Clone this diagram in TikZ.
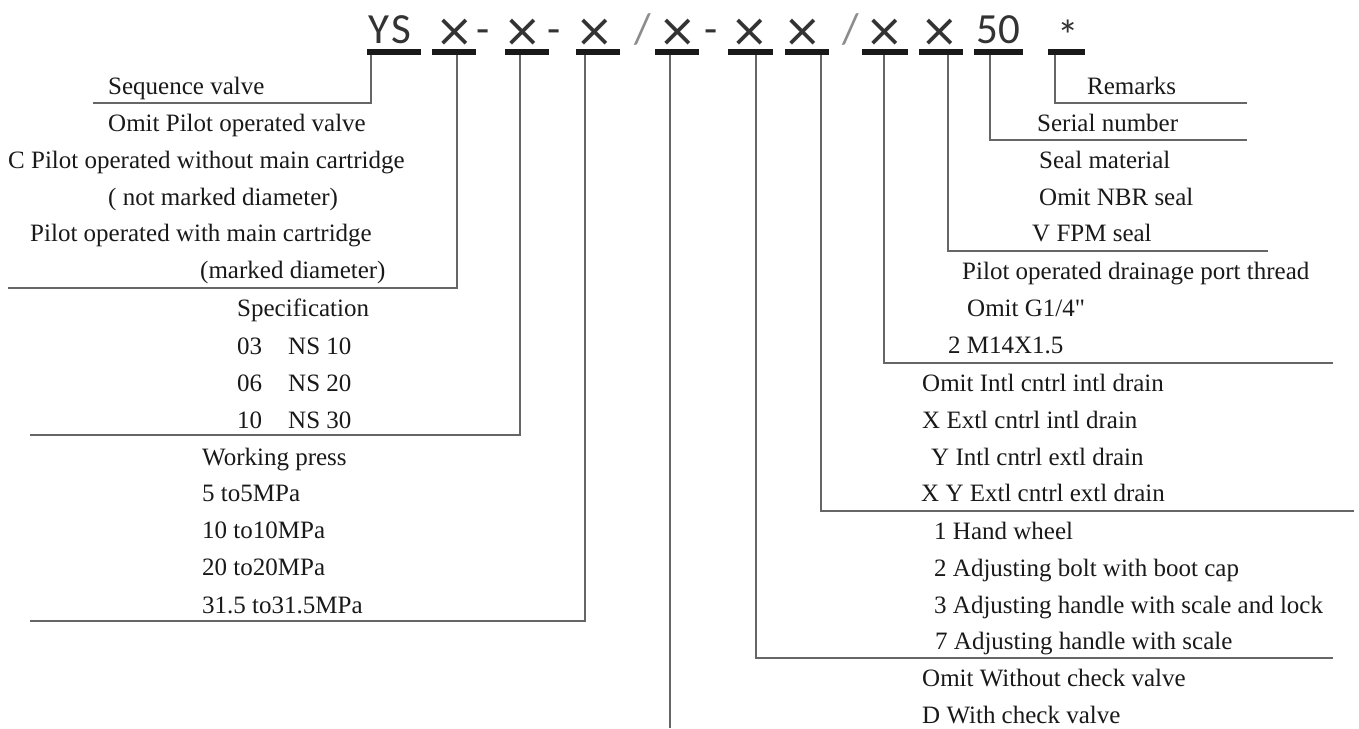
\documentclass[tikz,border=0pt]{standalone}
\usepackage{fontspec}
\setmainfont{Liberation Serif}
\newfontfamily\qfont{Liberation Serif}
\newfontfamily\codefont{Carlito}
\newfontfamily\crossfont{DejaVu Sans}
\begin{document}
\begin{tikzpicture}[x=1pt,y=-1pt,
  lbl/.style={anchor=base west,inner sep=0pt,font=\fontsize{25}{25}\selectfont,text=black!90},
  code/.style={anchor=base,inner sep=0pt,font=\codefont\fontsize{43}{43}\selectfont,text=black!80},
  cross/.style={anchor=base,inner sep=0pt,font=\crossfont\fontsize{46}{46}\selectfont,text=black!80},
  slash/.style={code,text=black!45},
  bar/.style={line width=6pt,black!90},
  lead/.style={line width=2pt,black!60}]
\useasboundingbox (0,0) rectangle (1359,728);

% code characters
\node[code] (cYS) at (390,43) {Y\kern2pt S};
\node[cross] (cx1) at (455,46) {×};
\node[code] (h1)  at (483,43) {-};
\node[cross] (cx2) at (523,46) {×};
\node[code] (h2)  at (554,43) {-};
\node[cross] (cx3) at (595,46) {×};
\node[slash] (s1) at (643,43) {/};
\node[cross] (cx4) at (678,46) {×};
\node[code] (h3)  at (711,43) {-};
\node[cross] (cx5) at (750,46) {×};
\node[cross] (cx6) at (803,46) {×};
\node[slash] (s2) at (851,43) {/};
\node[cross] (cx7) at (885,46) {×};
\node[cross] (cx8) at (940,46) {×};
\node[code] (c50) at (998,43) {50};
\node[code] (cst) at (1068,50) {*};

% underline bars
\draw[bar] (367,52) -- (421,52);
\draw[bar] (432,52) -- (476,52);
\draw[bar] (505,52) -- (549,52);
\draw[bar] (576,52) -- (620,52);
\draw[bar] (655,52) -- (699,52);
\draw[bar] (728,52) -- (773,52);
\draw[bar] (785,52) -- (829,52);
\draw[bar] (862,52) -- (908,52);
\draw[bar] (919,52) -- (963,52);
\draw[bar] (974,52) -- (1023,52);
\draw[bar] (1048,52) -- (1085,52);

% leader coordinates
\coordinate (t1) at (371,55);  \coordinate (e1) at (93,103);
\coordinate (t2) at (457,55);  \coordinate (e2) at (8,288);
\coordinate (t3) at (520,55);  \coordinate (e3) at (30,435);
\coordinate (t4) at (585,55);  \coordinate (e4) at (30,621);
\coordinate (t5) at (670,55);  \coordinate (e5) at (670,728);
\coordinate (t6) at (756,55);  \coordinate (e6) at (1333,658);
\coordinate (t7) at (821,55);  \coordinate (e7) at (1354,511);
\coordinate (t8) at (884,55);  \coordinate (e8) at (1333,363);
\coordinate (t9) at (948,55);  \coordinate (e9) at (1268,251);
\coordinate (t10) at (990,55); \coordinate (e10) at (1247,140);
\coordinate (t11) at (1055,55);\coordinate (e11) at (1247,103);

\draw[lead] (t1) |- (e1);
\draw[lead] (t2) |- (e2);
\draw[lead] (t3) |- (e3);
\draw[lead] (t4) |- (e4);
\draw[lead] (t5) -- (e5);
\draw[lead] (t6) |- (e6);
\draw[lead] (t7) |- (e7);
\draw[lead] (t8) |- (e8);
\draw[lead] (t9) |- (e9);
\draw[lead] (t10) |- (e10);
\draw[lead] (t11) |- (e11);

% left labels
\node[lbl] (l1) at (108,94) {Sequence valve};
\node[lbl] (l2) at (108,131) {Omit Pilot operated valve};
\node[lbl] (l3) at (8,168) {C Pilot operated without main cartridge};
\node[lbl] (l4) at (108,205) {( not marked diameter)};
\node[lbl] (l5) at (30,241) {Pilot operated with main cartridge};
\node[lbl] (l6) at (200,278) {(marked diameter)};
\node[lbl] (l7) at (237,316) {Specification};
\node[lbl] (l8a) at (237,354) {03};  \node[lbl] (l8b) at (288,354) {NS 10};
\node[lbl] (l9a) at (237,391) {06};  \node[lbl] (l9b) at (288,391) {NS 20};
\node[lbl] (l10a) at (237,428) {10}; \node[lbl] (l10b) at (288,428) {NS 30};
\node[lbl] (l11) at (202,465) {Working press};
\node[lbl] (l12) at (202,501) {5 to5MPa};
\node[lbl] (l13) at (202,538) {10 to10MPa};
\node[lbl] (l14) at (202,575) {20 to20MPa};
\node[lbl] (l15) at (202,613) {31.5 to31.5MPa};

% right labels
\node[lbl] (r1) at (1087,94) {Remarks};
\node[lbl] (r2) at (1037,131) {Serial number};
\node[lbl] (r3) at (1039,168) {Seal material};
\node[lbl] (r4) at (1039,205) {Omit NBR seal};
\node[lbl] (r5) at (1032,241) {V FPM seal};
\node[lbl] (r6) at (962,279) {Pilot operated drainage port thread};
\node[lbl] (r7) at (967,316) {Omit G1/4{\qfont"}};
\node[lbl] (r8) at (948,353) {2 M14X1.5};
\node[lbl] (r9) at (922,391) {Omit Intl cntrl intl drain};
\node[lbl] (r10) at (922,428) {X Extl cntrl intl drain};
\node[lbl] (r11) at (931,465) {Y Intl cntrl extl drain};
\node[lbl] (r12) at (921,501) {X Y Extl cntrl extl drain};
\node[lbl] (r13) at (934,539) {1 Hand wheel};
\node[lbl] (r14) at (934,576) {2 Adjusting bolt with boot cap};
\node[lbl] (r15) at (934,613) {3 Adjusting handle with scale and lock};
\node[lbl] (r16) at (935,649) {7 Adjusting handle with scale};
\node[lbl] (r17) at (922,686) {Omit Without check valve};
\node[lbl] (r18) at (922,723) {D With check valve};
\end{tikzpicture}
\end{document}
